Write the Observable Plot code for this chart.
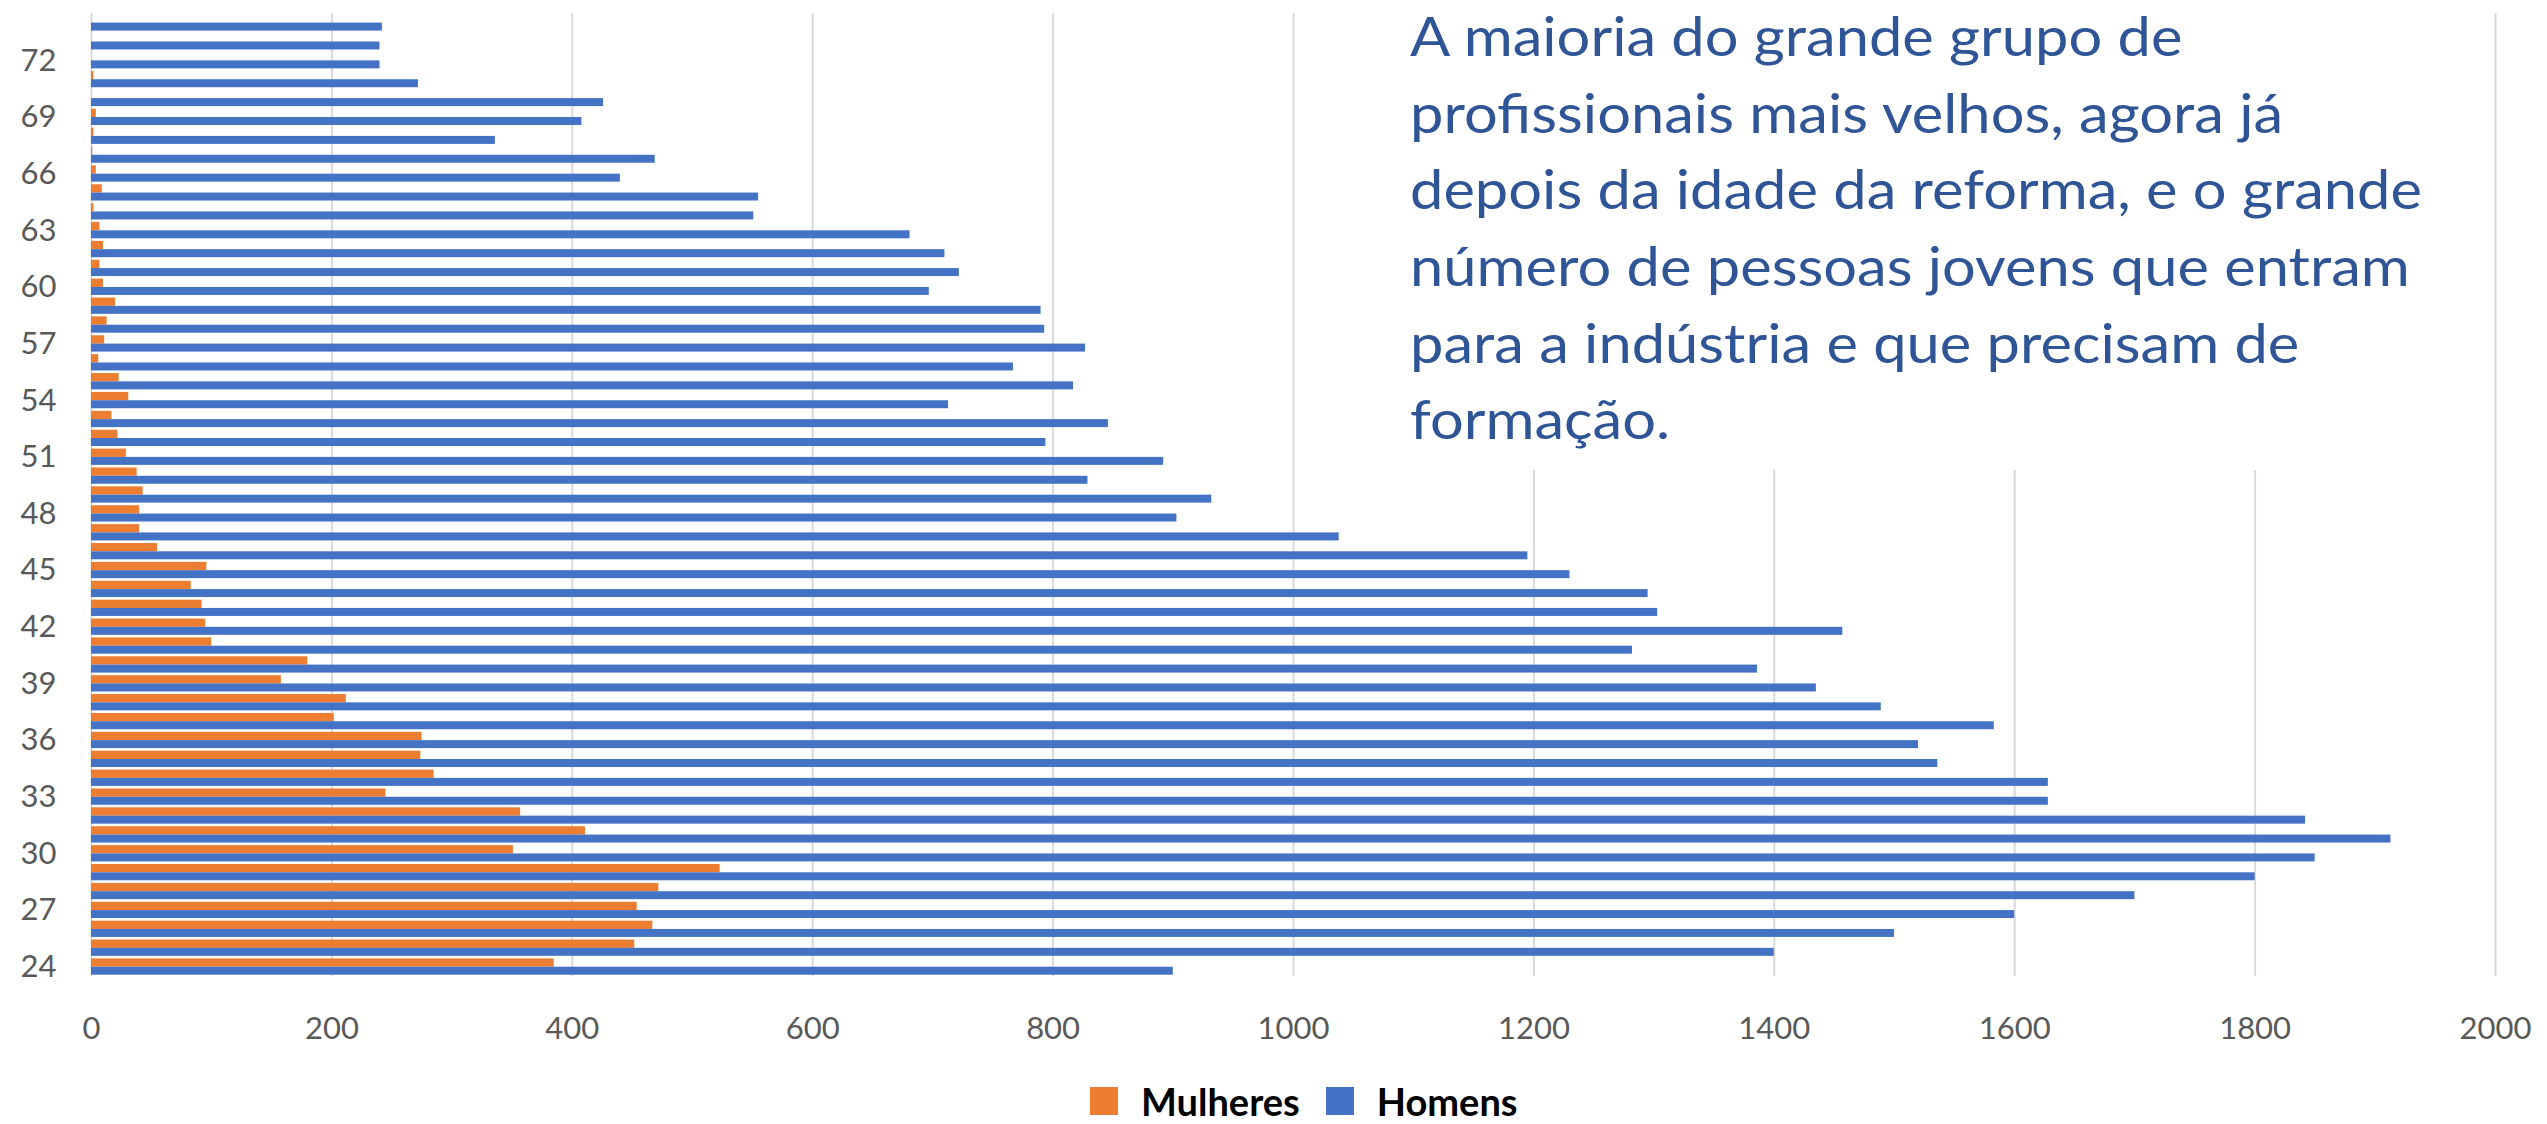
<!DOCTYPE html>
<html><head><meta charset="utf-8">
<script src="https://cdn.jsdelivr.net/npm/d3@7"></script>
<script src="https://cdn.jsdelivr.net/npm/@observablehq/plot@0.6"></script>
<style>
html,body{margin:0;padding:0;background:#fff;}
#chart{width:2547px;height:1124px;position:relative;overflow:hidden;background:#fff;}
#chart > svg{position:absolute;left:0;top:0;}
#legend{position:absolute;left:1090px;top:1079px;height:44px;}
#legend .lg-swatch > svg{margin-right:23px !important;}
#legend .lg-swatch{margin-right:26px !important;}
</style></head><body><div id="chart"><div id="legend"></div></div>
<script>
const ages = [24,25,26,27,28,29,30,31,32,33,34,35,36,37,38,39,40,41,42,43,44,45,46,47,48,49,
              50,51,52,53,54,55,56,57,58,59,60,61,62,63,64,65,66,67,68,69,70,71,72,73,74];
const mulheres = [385,452,467,454,472,523,351,411,357,245,285,274,275,202,212,158,180,100,95,92,83,96,55,40,40,43,
                  38,29,22,17,31,23,6,11,13,20,10,7,10,7,2,9,4,1,2,4,0,2,0,0,0];
const homens = [900,1400,1500,1600,1700,1800,1850,1913,1842,1628,1628,1536,1520,1583,1489,1435,1386,1282,1457,1303,1295,1230,1195,1038,903,932,
                829,892,794,846,713,817,767,827,793,790,697,722,710,681,551,555,440,469,336,408,426,272,240,240,242];
const ageTicks = [24,27,30,33,36,39,42,45,48,51,54,57,60,63,66,69,72];
const xTicks = [0,200,400,600,800,1000,1200,1400,1600,1800,2000];
const seriesNames = ["Mulheres","Homens"];
const seriesColors = ["#ED7D31","#4472C4"];
const noteLines = [
  "A maioria do grande grupo de",
  "profissionais mais velhos, agora já",
  "depois da idade da reforma, e o grande",
  "número de pessoas jovens que entram",
  "para a indústria e que precisam de",
  "formação."
];

const rowsM = ages.map((a,i)=>({age:a, sexo:"Mulheres", value:mulheres[i]}));
const rowsH = ages.map((a,i)=>({age:a, sexo:"Homens", value:homens[i]}));

const FONT = "Lato, 'Open Sans', sans-serif";
const svg = Plot.plot({
  width: 2547, height: 1064,
  marginLeft: 91, marginRight: 52, marginTop: 13, marginBottom: 88,
  style: {fontFamily: FONT, fontSize: "31px", color: "#595959", background: "#fff", overflow: "visible"},
  x: {domain: [0, 2000], ticks: xTicks, tickSize: 0, tickPadding: 40, label: null, tickFormat: d => String(d)},
  y: {domain: ages.slice().reverse(), padding: 0, ticks: ageTicks, tickSize: 0, tickPadding: 35, label: null},
  color: {domain: seriesNames, range: seriesColors},
  marks: [
    Plot.ruleX(xTicks, {stroke: "#d9d9d9", strokeWidth: 2}),
    Plot.barX(rowsM, {x: "value", y: "age", fill: "sexo", insetTop: 1.3, insetBottom: 9.3}),
    Plot.barX(rowsH, {x: "value", y: "age", fill: "sexo", insetTop: 9.6, insetBottom: 1.3})
  ]
});
const chart = document.getElementById("chart");
chart.insertBefore(svg, chart.firstChild);

// annotation box
const g = d3.select(svg).append("g");
g.append("rect").attr("x", 1398).attr("y", 0).attr("width", 1084).attr("height", 470).attr("fill", "#fff");
const t = g.append("text").attr("font-family", FONT).attr("font-size", 55).attr("fill", "#2F5597")
  .attr("text-anchor", "start").style("text-anchor", "start");
noteLines.forEach((s, i) => t.append("tspan").attr("x", 1410).attr("y", 56 + i * 76.7).text(s));
const tsp = t.selectAll("tspan").nodes();
const w = tsp[2].getComputedTextLength();
const k = 1012 / w;
t.attr("transform", `translate(1410,0) scale(${k},1) translate(-1410,0)`);

// legend
const legend = Plot.legend({
  color: {domain: seriesNames, range: seriesColors},
  legend: "swatches",
  swatchSize: 28,
  className: "lg",
  style: {fontFamily: FONT, fontSize: "38px", fontWeight: "bold", color: "#000", height: "44px", minHeight: "44px", marginLeft: "0px", lineHeight: "44px"}
});
document.getElementById("legend").appendChild(legend);
</script>
</body></html>
